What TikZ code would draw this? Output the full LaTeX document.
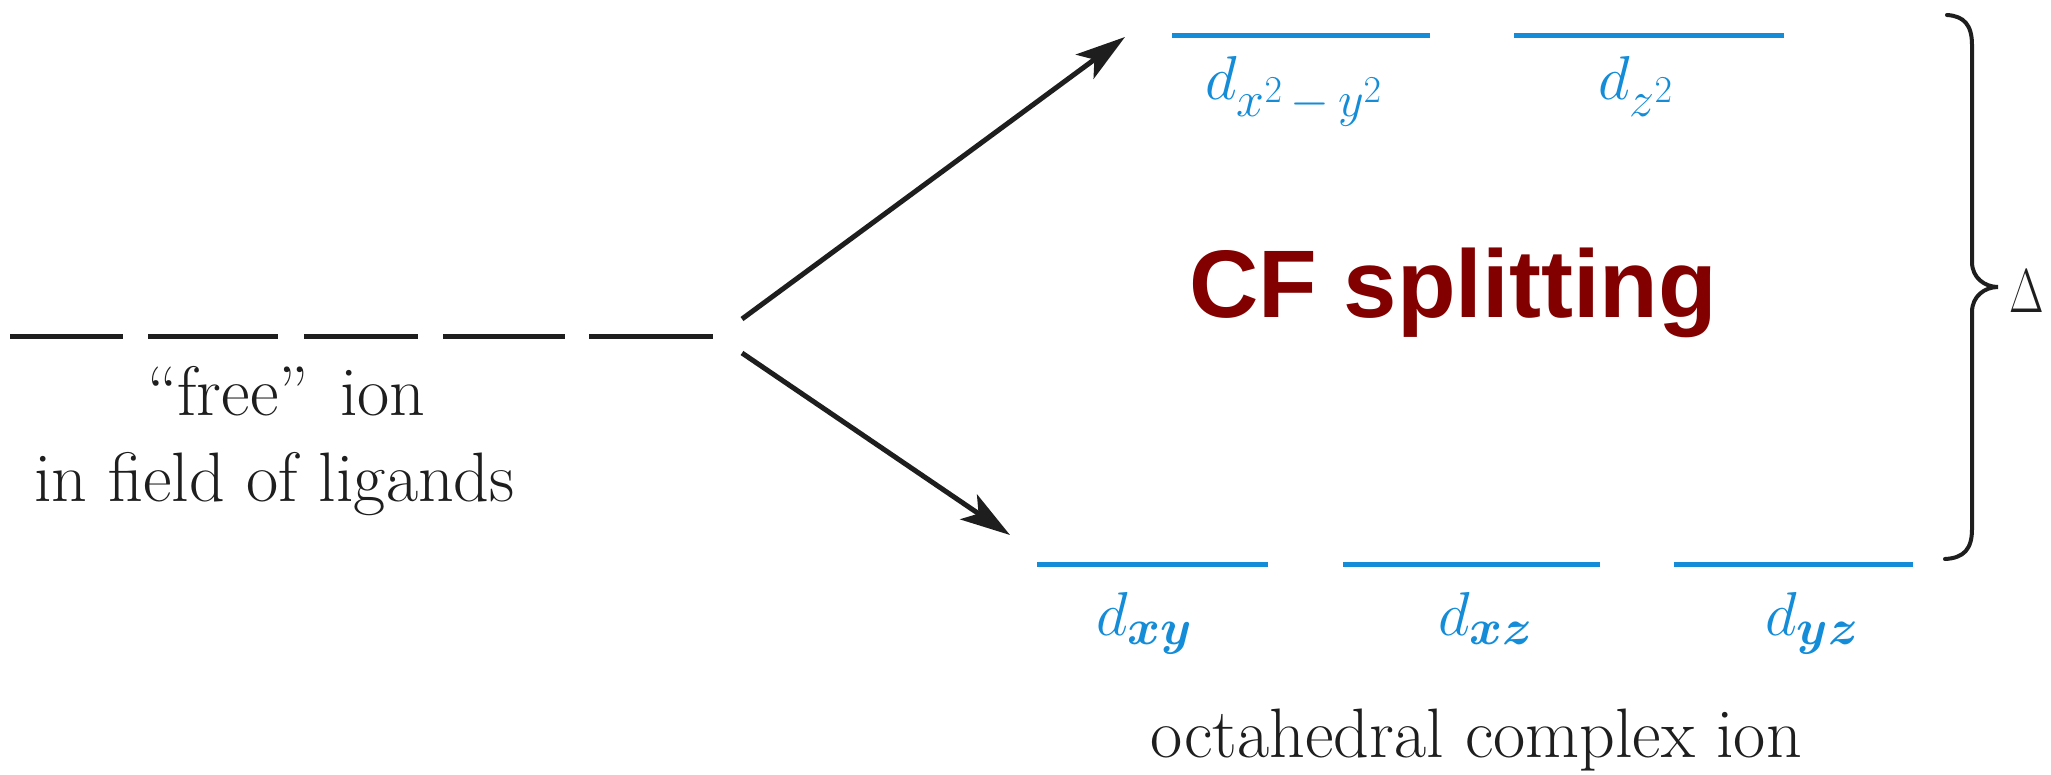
\RequirePackage{fix-cm}
\documentclass[tikz,border=0pt]{standalone}
\usepackage{amsmath,bm}
\usepackage{fontspec}
\newfontfamily\cfsans{Liberation Sans}
\usetikzlibrary{arrows.meta}
\DeclareMathSizes{62}{62}{50}{38}
\definecolor{lvlblue}{RGB}{20,140,215}
\definecolor{cfred}{RGB}{130,0,0}
\definecolor{ink}{RGB}{30,30,30}
\begin{document}
\begin{tikzpicture}[x=1pt,y=-1pt,
  lvl/.style={draw=lvlblue, line width=5pt},
  ionlvl/.style={draw=ink, line width=5pt},
  arr/.style={draw=ink, line width=5pt, -{Stealth[length=50pt,width=30pt,inset=12pt]}},
  lab/.style={inner sep=0pt, anchor=base west, font=\fontsize{70}{84}\selectfont, text=ink},
  mlab/.style={inner sep=0pt, anchor=base west, font=\fontsize{62}{74}\selectfont, text=lvlblue},
  cf/.style={inner sep=0pt, anchor=base west, font=\cfsans\bfseries\fontsize{96}{110}\selectfont, text=cfred},
  bracestyle/.style={draw=ink, line width=4pt, line cap=round}]
\useasboundingbox (0,0) rectangle (2051,774);
\fill[white] (0,0) rectangle (2051,774);
% free-ion levels
\foreach \a/\b in {10/123,148/278,304/418,443/565,589/713}{
  \draw[ionlvl] (\a,336) -- (\b,336);
}
\node[lab] (free) at (147,415) {``free''\hspace{0.15em} ion};
\node[lab] (field) at (34,501) {in field of ligands};
% arrows
\coordinate (up0) at (742,319);
\coordinate (up1) at (1125,37);
\coordinate (dn0) at (742,353);
\coordinate (dn1) at (1010,535);
\draw[arr] (up0) -- (up1);
\draw[arr] (dn0) -- (dn1);
% upper levels
\draw[lvl] (1172,35) -- (1430,35);
\draw[lvl] (1514,35) -- (1784,35);
\node[mlab] (dx2y2) at (1205,99) {$d_{x^2\,-\,y^2}$};
\node[mlab] (dz2) at (1598,99) {$d_{z^2}$};
% lower levels
\draw[lvl] (1037,564) -- (1268,564);
\draw[lvl] (1343,564) -- (1600,564);
\draw[lvl] (1674,564) -- (1913,564);
\node[mlab] (dxy) at (1096,635) {$d_{\bm{xy}}$};
\node[mlab] (dxz) at (1438,635) {$d_{\bm{xz}}$};
\node[mlab] (dyz) at (1765,635) {$d_{\bm{yz}}$};
\node[lab] (oct) at (1150,757) {octahedral complex ion};
% CF splitting
\node[cf] (cfs) at (1189,317) {CF splitting};
% brace
\draw[bracestyle] (1947,15) .. controls (1964,16) and (1972,25) .. (1972,45)
  -- (1972,262) .. controls (1972,278) and (1985,287) .. (1998,287)
  .. controls (1985,287) and (1972,296) .. (1972,312)
  -- (1972,529) .. controls (1972,549) and (1964,558) .. (1945,559);
\node[lab, font=\fontsize{62}{74}\selectfont] (delta) at (2009,312) {\scalebox{0.72}[1]{$\Delta$}};
\end{tikzpicture}
\end{document}
